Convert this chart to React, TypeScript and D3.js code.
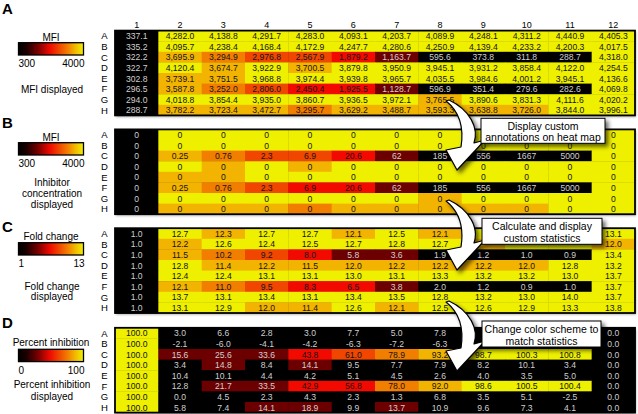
import React from 'react';
import * as d3 from 'd3';

const rowLabels = ['A', 'B', 'C', 'D', 'E', 'F', 'G', 'H'];
const colLabels = ['1', '2', '3', '4', '5', '6', '7', '8', '9', '10', '11', '12'];

const mfi = [
  [337.1, 4282.0, 4138.8, 4291.7, 4283.0, 4093.1, 4203.7, 4089.9, 4248.1, 4311.2, 4440.9, 4405.3],
  [335.2, 4095.7, 4238.4, 4168.4, 4172.9, 4247.7, 4280.6, 4250.9, 4139.4, 4233.2, 4200.3, 4017.5],
  [322.2, 3695.9, 3294.9, 2976.8, 2567.9, 1879.2, 1163.7, 595.6, 373.8, 311.8, 288.7, 4318.0],
  [322.7, 4120.4, 3674.7, 3922.9, 3700.5, 3879.8, 3950.9, 3945.1, 3931.2, 3858.4, 4122.0, 4254.5],
  [302.8, 3739.1, 3751.5, 3968.8, 3974.4, 3939.8, 3965.7, 4035.5, 3984.6, 4001.2, 3945.1, 4136.6],
  [296.5, 3587.8, 3252.0, 2806.0, 2450.4, 1925.5, 1128.7, 596.9, 351.4, 279.6, 282.6, 4069.8],
  [294.0, 4018.8, 3854.4, 3935.0, 3860.7, 3936.5, 3972.1, 3765.5, 3890.6, 3831.3, 4111.6, 4020.2],
  [288.7, 3782.2, 3723.4, 3472.7, 3295.7, 3629.2, 3488.7, 3593.3, 3638.8, 3726.0, 3844.0, 3996.1],
];

const inhibitorConc = [
  [0, 0, 0, 0, 0, 0, 0, 0, 0, 0, 0, 0],
  [0, 0, 0, 0, 0, 0, 0, 0, 0, 0, 0, 0],
  [0, 0.25, 0.76, 2.3, 6.9, 20.6, 62, 185, 556, 1667, 5000, 0],
  [0, 0, 0, 0, 0, 0, 0, 0, 0, 0, 0, 0],
  [0, 0, 0, 0, 0, 0, 0, 0, 0, 0, 0, 0],
  [0, 0.25, 0.76, 2.3, 6.9, 20.6, 62, 185, 556, 1667, 5000, 0],
  [0, 0, 0, 0, 0, 0, 0, 0, 0, 0, 0, 0],
  [0, 0, 0, 0, 0, 0, 0, 0, 0, 0, 0, 0],
];

const foldChange = [
  [1.0, 12.7, 12.3, 12.7, 12.7, 12.1, 12.5, 12.1, 12.6, 12.8, 13.2, 13.1],
  [1.0, 12.2, 12.6, 12.4, 12.5, 12.7, 12.8, 12.7, 12.3, 12.6, 12.5, 12.0],
  [1.0, 11.5, 10.2, 9.2, 8.0, 5.8, 3.6, 1.9, 1.2, 1.0, 0.9, 13.4],
  [1.0, 12.8, 11.4, 12.2, 11.5, 12.0, 12.2, 12.2, 12.2, 12.0, 12.8, 13.2],
  [1.0, 12.4, 12.4, 13.1, 13.1, 13.0, 13.1, 13.3, 13.2, 13.2, 13.0, 13.7],
  [1.0, 12.1, 11.0, 9.5, 8.3, 6.5, 3.8, 2.0, 1.2, 0.9, 1.0, 13.7],
  [1.0, 13.7, 13.1, 13.4, 13.1, 13.4, 13.5, 12.8, 13.2, 13.0, 14.0, 13.7],
  [1.0, 13.1, 12.9, 12.0, 11.4, 12.6, 12.1, 12.5, 12.6, 12.9, 13.3, 13.8],
];

const percentInhibition = [
  [100.0, 3.0, 6.6, 2.8, 3.0, 7.7, 5.0, 7.8, 3.9, 2.3, -0.9, 0.0],
  [100.0, -2.1, -6.0, -4.1, -4.2, -6.3, -7.2, -6.3, -3.3, -5.9, -5.0, 0.0],
  [100.0, 15.6, 25.6, 33.6, 43.8, 61.0, 78.9, 93.2, 98.7, 100.3, 100.8, 0.0],
  [100.0, 3.4, 14.8, 8.4, 14.1, 9.5, 7.7, 7.9, 8.2, 10.1, 3.4, 0.0],
  [100.0, 10.4, 10.1, 4.4, 4.2, 5.1, 4.5, 2.6, 4.0, 3.5, 5.0, 0.0],
  [100.0, 12.8, 21.7, 33.5, 42.9, 56.8, 78.0, 92.0, 98.6, 100.5, 100.4, 0.0],
  [100.0, 0.0, 4.5, 2.3, 4.3, 2.3, 1.3, 6.8, 3.5, 5.1, -2.5, 0.0],
  [100.0, 5.8, 7.4, 14.1, 18.9, 9.9, 13.7, 10.9, 9.6, 7.3, 4.1, 0.0],
];

const mfiTicks = ['300', '4000'];
const foldTicks = ['1', '13'];
const pctTicks = ['0', '100'];
const mfiDomain = [300, 4000];
const foldDomain = [1, 13];
const pctDomain = [0, 100];

const callouts = [
  ['Display custom', 'annotations on heat map'],
  ['Calculate and display', 'custom statistics'],
  ['Change color scheme to', 'match statistics'],
];

const FONT = "'Liberation Sans', Arial, Helvetica, sans-serif";
const binColors = ['#000000', '#6c0000', '#f20a00', '#f04600', '#f27e00', '#f2b400', '#eef000'];
const bins = d3.scaleThreshold<number, string>().domain([0.13, 0.4, 0.61, 0.735, 0.85, 0.947]).range(binColors);

const fmtMfi = d3.format(',.1f');
const fmt1 = (v: number) => v.toFixed(1);
const fmtRaw = (v: number) => String(v);

const panels = [
  {
    letter: 'A', letterY: 14, top: 30.6, values: mfi, colorValues: mfi, domain: mfiDomain, fmt: fmtMfi,
    title: 'MFI', ticks: mfiTicks, titleY: 37, barY: 42.7, tickY: 63, caption: ['MFI displayed'], captionY: [89.7], headers: true,
  },
  {
    letter: 'B', letterY: 128, top: 129.4, values: inhibitorConc, colorValues: mfi, domain: mfiDomain, fmt: fmtRaw,
    title: 'MFI', ticks: mfiTicks, titleY: 137.7, barY: 142.7, tickY: 163.3,
    caption: ['Inhibitor', 'concentration', 'displayed'], captionY: [182.3, 193.7, 204.6], headers: false,
  },
  {
    letter: 'C', letterY: 232, top: 228.2, values: foldChange, colorValues: foldChange, domain: foldDomain, fmt: fmt1,
    title: 'Fold change', ticks: foldTicks, titleY: 236.7, barY: 242.7, tickY: 263.3,
    caption: ['Fold change', 'displayed'], captionY: [286, 296.9], headers: false,
  },
  {
    letter: 'D', letterY: 328, top: 327.8, values: percentInhibition, colorValues: percentInhibition, domain: pctDomain, fmt: fmt1,
    title: 'Percent inhibition', ticks: pctTicks, titleY: 342.7, barY: 349.3, tickY: 370,
    caption: ['Percent inhibition', 'displayed'], captionY: [384.3, 396.9], headers: false,
  },
];

const HM_LEFT = 115;
const HM_RIGHT = 635;
const HM_H = 84.8;
const BAR_X = 18.5;
const BAR_W = 65;
const BAR_H = 12.3;

const x = d3.scaleBand<string>().domain(colLabels).range([HM_LEFT, HM_RIGHT]);

function arrowPath(dy: number) {
  const p = d3.path();
  p.moveTo(449, 100 + dy);
  p.bezierCurveTo(470, 110 + dy, 479, 128 + dy, 474, 143 + dy);
  p.lineTo(485, 140 + dy);
  p.lineTo(457, 170 + dy);
  p.lineTo(446, 150 + dy);
  p.lineTo(461, 147 + dy);
  p.bezierCurveTo(464, 128 + dy, 460, 112 + dy, 446, 101 + dy);
  p.closePath();
  return p.toString();
}

const arrowShifts = [0, 100, 201];
const calloutBoxes = [
  { x: 481, y: 118.3, w: 124, h: 25 },
  { x: 482, y: 218.3, w: 120, h: 26 },
  { x: 482, y: 321, w: 119, h: 26 },
];

function covered(cx: number, cy: number) {
  return calloutBoxes.some((b) => cx > b.x - 6 && cx < b.x + b.w + 6 && cy > b.y - 2 && cy < b.y + b.h + 2);
}

export default function App() {
  return (
    <svg width={638} height={414} style={{ position: 'absolute', left: 0, top: 0, background: '#fff' }} fontFamily={FONT}>
      <defs>
        <linearGradient id="hot" x1="0" x2="1" y1="0" y2="0">
          <stop offset="0" stopColor="#000000" />
          <stop offset="0.12" stopColor="#1a0000" />
          <stop offset="0.3" stopColor="#780000" />
          <stop offset="0.48" stopColor="#ee0a00" />
          <stop offset="0.62" stopColor="#f04400" />
          <stop offset="0.76" stopColor="#f28000" />
          <stop offset="0.88" stopColor="#f2bc00" />
          <stop offset="1" stopColor="#eef000" />
        </linearGradient>
        <filter id="sh" x="-30%" y="-30%" width="170%" height="170%">
          <feDropShadow dx="3" dy="3" stdDeviation="2.2" floodColor="#000" floodOpacity="0.6" />
        </filter>
        <filter id="hs" x="-5%" y="-5%" width="110%" height="115%">
          <feDropShadow dx="1" dy="1.5" stdDeviation="0.8" floodColor="#000" floodOpacity="0.35" />
        </filter>
      </defs>

      {panels.map((pn) => {
        const y = d3.scaleBand<string>().domain(rowLabels).range([pn.top, pn.top + HM_H]);
        const norm = d3.scaleLinear().domain(pn.domain).clamp(true);
        return (
          <g key={pn.letter}>
            <text x={2} y={pn.letterY} fontSize={15} fontWeight="bold">{pn.letter}</text>
            <text x={BAR_X + BAR_W / 2} y={pn.titleY} fontSize={10} textAnchor="middle" dominantBaseline="central">{pn.title}</text>
            <rect x={BAR_X} y={pn.barY} width={BAR_W} height={BAR_H} fill="url(#hot)" stroke="#000" strokeWidth={1.3} />
            <text x={BAR_X} y={pn.tickY} fontSize={10} textAnchor="start" dominantBaseline="central">{pn.ticks[0]}</text>
            <text x={BAR_X + BAR_W + 1} y={pn.tickY} fontSize={10} textAnchor="end" dominantBaseline="central">{pn.ticks[1]}</text>
            {pn.caption.map((c, i) => (
              <text key={i} x={BAR_X + BAR_W / 2 + 1} y={pn.captionY[i]} fontSize={10} textAnchor="middle" dominantBaseline="central">{c}</text>
            ))}
            {pn.headers && colLabels.map((c) => (
              <text key={c} x={(x(c) as number) + x.bandwidth() / 2} y={25} fontSize={9} textAnchor="middle" dominantBaseline="central">{c}</text>
            ))}
            {rowLabels.map((r) => (
              <text key={r} x={104.5} y={(y(r) as number) + y.bandwidth() / 2} fontSize={9.5} textAnchor="middle" dominantBaseline="central">{r}</text>
            ))}
            <rect x={HM_LEFT} y={pn.top} width={HM_RIGHT - HM_LEFT} height={HM_H} fill="#000" filter="url(#hs)" />
            {pn.values.map((row, ri) => row.map((v, ci) => {
              const t = norm(pn.colorValues[ri][ci]);
              return (
                <rect key={`r${ri}-${ci}`} x={x(colLabels[ci]) as number} y={y(rowLabels[ri]) as number}
                  width={x.bandwidth() + 0.4} height={y.bandwidth() + 0.4} fill={bins(t)} />
              );
            }))}
            {pn.values.map((row, ri) => row.map((v, ci) => {
              const t = norm(pn.colorValues[ri][ci]);
              const dark = t < 0.4;
              const cx = (x(colLabels[ci]) as number) + x.bandwidth() / 2;
              const cy = (y(rowLabels[ri]) as number) + y.bandwidth() / 2 + 0.3;
              if (covered(cx, cy)) return null;
              return (
                <text key={`t${ri}-${ci}`} x={cx} y={cy}
                  fontSize={8.6} textAnchor="middle" dominantBaseline="central"
                  fill={dark ? '#cfcfcf' : '#141414'}>{pn.fmt(v)}</text>
              );
            }))}
            <rect x={HM_LEFT} y={pn.top} width={HM_RIGHT - HM_LEFT} height={HM_H} fill="none" stroke="#000" strokeWidth={1.8} />
          </g>
        );
      })}

      {arrowShifts.map((dy, i) => (
        <path key={`a${i}`} d={arrowPath(dy)} fill="#fff" stroke="#000" strokeWidth={1.2} strokeLinejoin="round" filter="url(#sh)" />
      ))}
      {calloutBoxes.map((b, i) => (
        <g key={`c${i}`}>
          <rect x={b.x} y={b.y} width={b.w} height={b.h} fill="#fff" stroke="#000" strokeWidth={1} filter="url(#sh)" />
          <text x={b.x + b.w / 2} y={b.y + b.h * 0.29} fontSize={10.5} textAnchor="middle" dominantBaseline="central">{callouts[i][0]}</text>
          <text x={b.x + b.w / 2} y={b.y + b.h * 0.76} fontSize={10.5} textAnchor="middle" dominantBaseline="central">{callouts[i][1]}</text>
        </g>
      ))}
    </svg>
  );
}
